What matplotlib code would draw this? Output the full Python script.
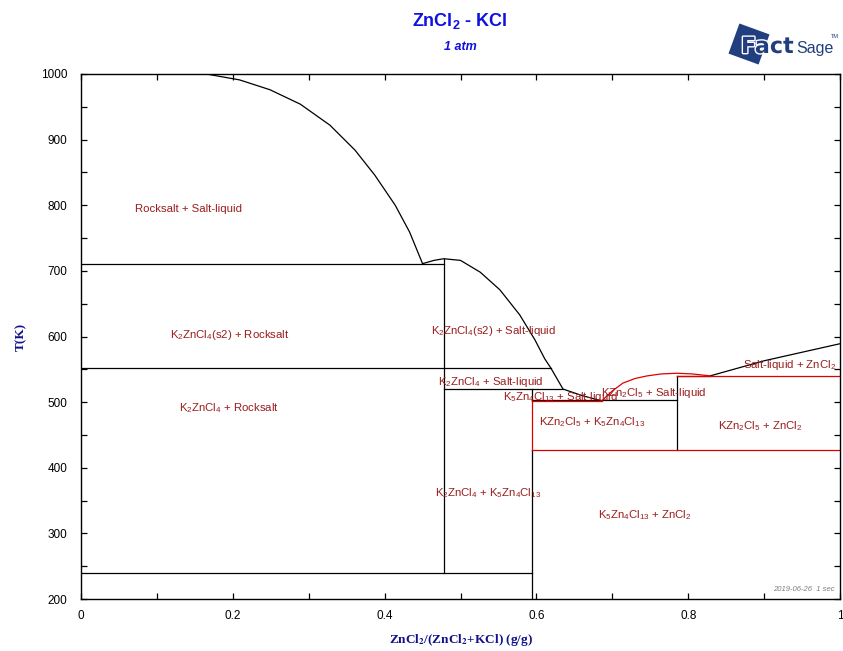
#!/usr/bin/env python3
"""
ZnCl2 - KCl phase diagram (FactSage style)
"""

import numpy as np
import matplotlib
matplotlib.use('Agg')
import matplotlib.pyplot as plt
from matplotlib.patches import Polygon
import matplotlib.patheffects as pe

plt.rcParams['font.family'] = ['Liberation Sans', 'DejaVu Sans']
plt.rcParams['mathtext.fontset'] = 'custom'
plt.rcParams['mathtext.rm'] = 'Liberation Sans'
plt.rcParams['mathtext.it'] = 'Liberation Sans:italic'
plt.rcParams['mathtext.bf'] = 'Liberation Sans:bold'

# liquidus curves (x = mass fraction ZnCl2, T in K)
rocksalt_liq_x = [0.165, 0.209, 0.249, 0.289, 0.328, 0.361, 0.387, 0.414, 0.433, 0.45]
rocksalt_liq_T = [1000, 991, 976, 954, 922, 884, 846, 800, 759, 711]

k2zncl4_liq_x = [0.45, 0.465, 0.478, 0.50, 0.526, 0.552, 0.578, 0.598, 0.611,
                 0.619, 0.635, 0.66, 0.686]
k2zncl4_liq_T = [711, 716, 718.5, 716, 698, 671, 633, 595, 566, 552, 520, 510, 502]

kzn2cl5_liq_x = [0.686, 0.70, 0.714, 0.73, 0.746, 0.765, 0.785, 0.805, 0.829]
kzn2cl5_liq_T = [502, 517, 529, 536, 540, 543, 544, 543, 540]

zncl2_liq_x = [0.829, 0.9, 1.0]
zncl2_liq_T = [540, 563, 589]

# invariant / phase boundary segments: (x0, x1, T0, T1)
black_segs = [
    (0.0, 0.478, 711, 711),
    (0.0, 0.619, 552, 552),
    (0.478, 0.635, 520, 520),
    (0.0, 0.594, 239, 239),
    (0.594, 0.785, 502.5, 502.5),
    (0.785, 0.829, 540, 540),
    (0.478, 0.478, 239, 718.5),
    (0.594, 0.594, 200, 427),
    (0.594, 0.594, 502, 520),
    (0.785, 0.785, 427, 540),
]
red_segs = [
    (0.594, 0.686, 501.5, 501.5),
    (0.594, 1.0, 427, 427),
    (0.785, 1.0, 540, 540),
    (0.594, 0.594, 427, 502),
]

# region labels
label_text = [
    'Rocksalt + Salt-liquid',
    r'K$_2$ZnCl$_4$(s2) + Rocksalt',
    r'K$_2$ZnCl$_4$ + Rocksalt',
    r'K$_2$ZnCl$_4$(s2) + Salt-liquid',
    r'K$_2$ZnCl$_4$ + Salt-liquid',
    r'K$_5$Zn$_4$Cl$_{13}$ + Salt-liquid',
    r'KZn$_2$Cl$_5$ + Salt-liquid',
    r'Salt-liquid + ZnCl$_2$',
    r'KZn$_2$Cl$_5$ + K$_5$Zn$_4$Cl$_{13}$',
    r'KZn$_2$Cl$_5$ + ZnCl$_2$',
    r'K$_2$ZnCl$_4$ + K$_5$Zn$_4$Cl$_{13}$',
    r'K$_5$Zn$_4$Cl$_{13}$ + ZnCl$_2$',
]
label_x = [0.141, 0.196, 0.195, 0.543, 0.540, 0.631, 0.755, 0.933, 0.673, 0.895, 0.536, 0.743]
label_T = [794, 602, 491, 608, 531, 508, 514, 557, 470, 464, 361, 328]

x_ticks = [0, 0.2, 0.4, 0.6, 0.8, 1]
x_tick_labels = ['0', '0.2', '0.4', '0.6', '0.8', '1']
y_ticks = [200, 300, 400, 500, 600, 700, 800, 900, 1000]

LABEL_RED = '#9a1c1c'
LINE_RED = '#e00000'
NAVY = '#213f7f'

fig = plt.figure(figsize=(8.43, 6.51), dpi=100)
ax = fig.add_axes([81 / 843, 1 - 599 / 651, 759 / 843, 525 / 651])

lw = 0.9
ax.plot(rocksalt_liq_x, rocksalt_liq_T, color='black', lw=lw)
ax.plot(k2zncl4_liq_x, k2zncl4_liq_T, color='black', lw=lw)
ax.plot(zncl2_liq_x, zncl2_liq_T, color='black', lw=lw)
for x0, x1, t0, t1 in black_segs:
    ax.plot([x0, x1], [t0, t1], color='black', lw=lw)
for x0, x1, t0, t1 in red_segs:
    ax.plot([x0, x1], [t0, t1], color=LINE_RED, lw=lw)
ax.plot(kzn2cl5_liq_x, kzn2cl5_liq_T, color=LINE_RED, lw=lw)

for txt, x, t in zip(label_text, label_x, label_T):
    ax.text(x, t, txt, color=LABEL_RED, fontsize=8.2, ha='center', va='center')

ax.set_xlim(0, 1)
ax.set_ylim(200, 1000)
ax.set_xticks(x_ticks)
ax.set_xticklabels(x_tick_labels)
ax.set_yticks(y_ticks)
ax.set_xticks(np.arange(0.1, 1.0, 0.2), minor=True)
ax.set_yticks(np.arange(250, 1000, 100), minor=True)
ax.tick_params(which='both', direction='in', top=True, right=True,
               labelsize=8.5, length=4, width=0.9)
ax.tick_params(axis='x', pad=8)
ax.tick_params(axis='y', pad=10)
for s in ax.spines.values():
    s.set_linewidth(1.0)

ax.set_xlabel(r'ZnCl$_\mathbf{2}$/(ZnCl$_\mathbf{2}$+KCl) (g/g)',
              fontfamily='Liberation Serif', fontweight='bold', fontsize=9.5,
              color='#10108a', math_fontfamily='stix', labelpad=7)
ax.set_ylabel('T(K)', fontfamily='Liberation Serif', fontweight='bold',
              fontsize=9.5, color='#10108a', labelpad=10)

# titles
fig.text(460 / 843, 1 - 21 / 651, r'ZnCl$_\mathbf{2}$ - KCl', color='#1010e0',
         fontsize=13, fontweight='bold', ha='center', va='center')
fig.text(460 / 843, 1 - 47 / 651, '1 atm', color='#1010e0', fontsize=9,
         fontweight='bold', fontstyle='italic', ha='center', va='center')

# time stamp
ax.text(0.993, 0.012, '2019-06-26  1 sec', transform=ax.transAxes, fontsize=5.5,
        fontstyle='italic', color='#808080', ha='right', va='bottom')

# FactSage logo
cx, cy, half = 749, 44, 16
ang = np.deg2rad(20)
corners = []
for dx, dy in [(-1, -1), (1, -1), (1, 1), (-1, 1)]:
    rx = dx * half * np.cos(ang) - dy * half * np.sin(ang)
    ry = dx * half * np.sin(ang) + dy * half * np.cos(ang)
    corners.append(((cx + rx) / 843, 1 - (cy + ry) / 651))
fig.patches.append(Polygon(corners, closed=True, transform=fig.transFigure,
                           facecolor=NAVY, edgecolor='none'))
fig.text(741 / 843, 1 - 47 / 651, 'Fact', fontsize=16, fontweight='bold',
         family='DejaVu Sans', color=NAVY, ha='left', va='center',
         path_effects=[pe.withStroke(linewidth=2, foreground='white')])
fig.text(796 / 843, 1 - 48 / 651, 'Sage', fontsize=11.5, color=NAVY,
         ha='left', va='center')
fig.text(831 / 843, 1 - 37 / 651, 'TM', fontsize=4, color=NAVY,
         ha='left', va='center')

plt.savefig('out.png', dpi=100)
plt.close()
